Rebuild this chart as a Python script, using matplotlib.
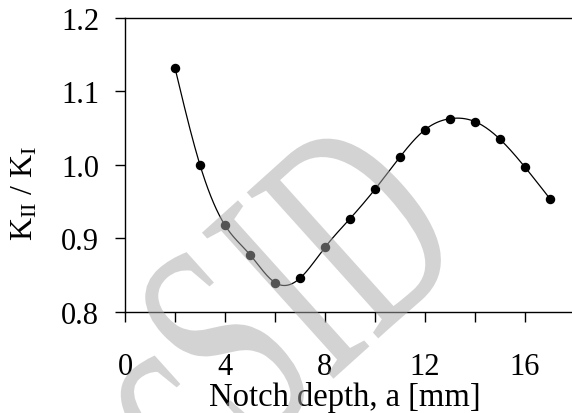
import matplotlib
matplotlib.use("Agg")
import matplotlib.pyplot as plt
import matplotlib.transforms as mtransforms
import numpy as np
from matplotlib.font_manager import FontProperties
from matplotlib.patches import PathPatch
from matplotlib.textpath import TextPath
from matplotlib.ticker import FuncFormatter, MultipleLocator

notch_depth = [2, 3, 4, 5, 6, 7, 8, 9, 10, 11, 12, 13, 14, 15, 16, 17]
k_ratio = [1.132, 1.000, 0.918, 0.878, 0.840, 0.846, 0.888, 0.927,
           0.967, 1.011, 1.048, 1.063, 1.059, 1.035, 0.997, 0.954]


def natural_spline(x, y, n=400):
    x = np.asarray(x, float)
    y = np.asarray(y, float)
    h = np.diff(x)
    m = len(x)
    a = np.zeros((m, m))
    b = np.zeros(m)
    a[0, 0] = a[-1, -1] = 1.0
    for i in range(1, m - 1):
        a[i, i - 1] = h[i - 1]
        a[i, i] = 2 * (h[i - 1] + h[i])
        a[i, i + 1] = h[i]
        b[i] = 6 * ((y[i + 1] - y[i]) / h[i] - (y[i] - y[i - 1]) / h[i - 1])
    mm = np.linalg.solve(a, b)
    xs = np.linspace(x[0], x[-1], n)
    idx = np.clip(np.searchsorted(x, xs) - 1, 0, m - 2)
    x0, x1 = x[idx], x[idx + 1]
    hh = x1 - x0
    t0, t1 = x1 - xs, xs - x0
    ys = (mm[idx] * t0**3 + mm[idx + 1] * t1**3) / (6 * hh) \
        + (y[idx] / hh - mm[idx] * hh / 6) * t0 \
        + (y[idx + 1] / hh - mm[idx + 1] * hh / 6) * t1
    return xs, ys


plt.rcParams["font.family"] = "Liberation Serif"
plt.rcParams["mathtext.fontset"] = "custom"
plt.rcParams["mathtext.rm"] = "Liberation Serif"

W, H = 572, 414
fig = plt.figure(figsize=(W / 100, H / 100), dpi=100)
ax = fig.add_axes([125 / W, 1 - 313 / H, 450 / W, 294 / H])

xs, ys = natural_spline(notch_depth, k_ratio)
ax.plot(xs, ys, color="black", lw=0.9)
ax.plot(notch_depth, k_ratio, "o", color="black", ms=5.8)

ax.set_xlim(0, 18)
ax.set_ylim(0.8, 1.2)
ax.xaxis.set_major_locator(MultipleLocator(2))
ax.xaxis.set_major_formatter(FuncFormatter(lambda v, p: f"{v:.0f}" if v % 4 == 0 else ""))
ax.yaxis.set_major_locator(MultipleLocator(0.1))
ax.yaxis.set_major_formatter(FuncFormatter(lambda v, p: f"{v:.1f}"))
ax.tick_params(direction="out", length=7.5, width=1, labelsize=22)
ax.tick_params(axis="x", pad=21)
ax.tick_params(axis="y", pad=11)
ax.spines["right"].set_visible(False)
for s in ("left", "bottom", "top"):
    ax.spines[s].set_linewidth(1)

ax.set_xlabel("Notch depth, a [mm]", fontsize=23.5, labelpad=0)
ax.xaxis.set_label_coords(0.489, -0.234)
ax.set_ylabel(r"$\mathrm{K_{II}}$ / $\mathrm{K_{I}}$", fontsize=23)
ax.yaxis.set_label_coords(-0.189, 0.408)

# watermark, stretched serif letters laid along a rising baseline
wm_path = TextPath((0, 0), "cSID", size=1, prop=FontProperties(family="Liberation Serif"))
wm_tr = (mtransforms.Affine2D().translate(-0.722, -0.33).scale(185, 300)
         .rotate_deg(42).translate(224, H - 345).scale(1 / W, 1 / H) + fig.transFigure)
fig.patches.append(PathPatch(wm_path, transform=wm_tr, facecolor=(0.66, 0.66, 0.66),
                             edgecolor="none", alpha=0.5, zorder=10))

fig.savefig("out.png", dpi=100)
